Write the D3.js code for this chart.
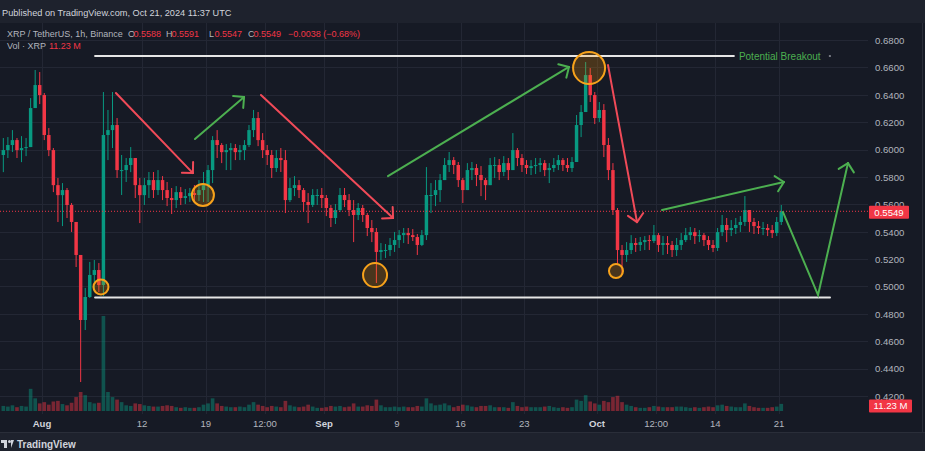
<!DOCTYPE html>
<html>
<head>
<meta charset="utf-8">
<script src="https://cdn.jsdelivr.net/npm/d3@7"></script>
<style>
  html, body { margin: 0; padding: 0; background: #161a25; }
  svg { display: block; font-family: "Liberation Sans", Arial, sans-serif; }
</style>
</head>
<body>
<svg id="chart" width="925" height="451"></svg>
<script>
var candleStart = "2024-07-27T12:00:00Z";
var candleHours = 12;
var firstOpen = 0.5960;

var candleHigh = [
  .6084,.6091,.6142,.6084,.6098,.6084,.6376,.6581,.6566,.6413,
  .6157,.6011,.5792,.5755,.5719,.5609,.5471,.5208,.4989,.5179,
  .5193,.5171,.6420,.6289,.6420,.6230,.5960,.5938,.6018,.5923,
  .5792,.5792,.5836,.5836,.5850,.5806,.5763,.5719,.5733,.5726,
  .5711,.5719,.5741,.5777,.5836,.5887,.6098,.6142,.6047,.6040,
  .6047,.6040,.6033,.6069,.6179,.6289,.6274,.6120,.6033,.5996,
  .5996,.6011,.5996,.5792,.5806,.5777,.5719,.5682,.5711,.5711,
  .5719,.5668,.5595,.5602,.5719,.5719,.5675,.5631,.5609,.5595,
  .5536,.5485,.5427,.5317,.5310,.5354,.5398,.5412,.5427,.5427,
  .5419,.5383,.5412,.5872,.5755,.5777,.5821,.5938,.5982,.5945,
  .5909,.5792,.5901,.5909,.5894,.5879,.5792,.5938,.5945,.5931,
  .5952,.5938,.6120,.6011,.5967,.5923,.5923,.5938,.5938,.5923,
  .5901,.5938,.5960,.5938,.5938,.5945,.6252,.6325,.6639,.6595,
  .6420,.6347,.6332,.6084,.5901,.5573,.5303,.5324,.5375,.5354,
  .5361,.5368,.5375,.5449,.5390,.5368,.5368,.5332,.5354,.5390,
  .5427,.5434,.5427,.5412,.5390,.5368,.5339,.5427,.5522,.5500,
  .5485,.5500,.5514,.5660,.5558,.5500,.5478,.5471,.5456,.5449,
  .5507,.5595
];
var candleLow = [
  .5835,.5938,.5982,.5938,.5908,.5952,.6055,.6362,.6332,.6069,
  .5952,.5689,.5471,.5441,.5500,.5398,.5142,.4302,.4682,.4916,
  .4959,.4959,.4930,.5923,.6011,.5792,.5668,.5763,.5835,.5646,
  .5463,.5595,.5646,.5646,.5668,.5631,.5587,.5529,.5573,.5595,
  .5602,.5617,.5624,.5624,.5617,.5617,.5755,.5938,.5901,.5850,
  .5850,.5923,.5923,.5923,.6018,.6091,.6025,.5938,.5887,.5792,
  .5836,.5836,.5536,.5617,.5660,.5646,.5544,.5463,.5580,.5595,
  .5573,.5514,.5434,.5456,.5544,.5580,.5514,.5324,.5485,.5471,
  .5368,.5324,.5025,.5193,.5208,.5222,.5252,.5281,.5317,.5310,
  .5332,.5230,.5295,.5339,.5536,.5587,.5617,.5792,.5836,.5821,
  .5726,.5609,.5726,.5777,.5733,.5660,.5631,.5763,.5792,.5777,
  .5806,.5777,.5850,.5879,.5836,.5821,.5814,.5821,.5836,.5806,
  .5755,.5836,.5850,.5843,.5836,.5836,.5923,.6091,.6289,.6347,
  .6186,.6201,.5945,.5777,.5522,.5157,.5091,.5179,.5237,.5252,
  .5259,.5266,.5266,.5317,.5252,.5230,.5237,.5215,.5222,.5266,
  .5324,.5339,.5310,.5324,.5295,.5266,.5251,.5259,.5368,.5324,
  .5368,.5383,.5398,.5441,.5398,.5383,.5383,.5375,.5368,.5354,
  .5368,.5449
];
var candleClose = [
  .5996,.6033,.6069,.5996,.6011,.6018,.6303,.6471,.6398,.6106,
  .5996,.5740,.5667,.5704,.5595,.5471,.5230,.4755,.4923,.5084,
  .5120,.5010,.6106,.6142,.6179,.5850,.5850,.5887,.5938,.5740,
  .5667,.5740,.5777,.5704,.5777,.5704,.5646,.5631,.5689,.5646,
  .5660,.5682,.5668,.5704,.5740,.5850,.6069,.6033,.5981,.5996,
  .6011,.5981,.5996,.6033,.6142,.6230,.6069,.5996,.5960,.5865,
  .5938,.5923,.5631,.5719,.5740,.5704,.5617,.5595,.5668,.5668,
  .5646,.5573,.5500,.5558,.5668,.5631,.5558,.5522,.5573,.5522,
  .5427,.5398,.5252,.5266,.5266,.5303,.5339,.5375,.5390,.5375,
  .5361,.5303,.5375,.5668,.5668,.5704,.5777,.5887,.5923,.5887,
  .5777,.5704,.5850,.5865,.5814,.5777,.5740,.5887,.5887,.5836,
  .5901,.5850,.5996,.5938,.5887,.5865,.5879,.5887,.5901,.5850,
  .5865,.5887,.5923,.5887,.5865,.5909,.6179,.6274,.6544,.6398,
  .6230,.6289,.6033,.5850,.5558,.5266,.5230,.5266,.5317,.5303,
  .5324,.5339,.5332,.5375,.5303,.5317,.5303,.5266,.5303,.5339,
  .5375,.5397,.5368,.5375,.5339,.5303,.5281,.5397,.5449,.5412,
  .5427,.5449,.5471,.5558,.5471,.5441,.5427,.5427,.5412,.5390,
  .5471,.5549
];
// volume in millions XRP (height of the bars as seen)
var candleVolume = [
  8,7,9,6,8,7,35,20,12,14,
  10,15,16,11,9,13,22,30,25,14,
  12,13,150,30,22,18,14,9,8,12,
  11,9,8,7,7,8,9,8,6,5,
  6,5,5,6,10,12,20,12,8,7,
  6,6,7,6,10,14,10,8,6,8,
  7,6,16,9,7,6,7,10,7,5,
  5,6,8,7,8,6,7,12,7,7,
  9,8,18,9,6,6,7,6,7,6,
  6,8,7,20,12,9,10,12,9,6,
  8,10,9,7,6,8,8,9,6,6,
  6,5,14,8,6,7,6,6,6,7,
  8,6,5,6,5,6,18,16,25,15,
  12,10,16,14,22,24,14,10,8,6,
  5,5,6,8,7,6,6,6,7,7,
  6,5,6,5,6,7,6,9,10,8,
  7,6,6,12,8,6,5,5,5,6,
  7,11.23
];

// last hourly bar, as printed in the legend
var legendOHLC = [["O", 0.5588], ["H", 0.5591], ["L", 0.5547], ["C", 0.5549]];
var legendChange = "\u22120.0038 (\u22120.68%)";

var priceTicks = [0.42,0.44,0.46,0.48,0.50,0.52,0.54,0.56,0.58,0.60,0.62,0.64,0.66,0.68];
var timeTickDates = ["2024-08-01T00:00Z","2024-08-12T00:00Z","2024-08-19T00:00Z","2024-08-25T12:00Z",
  "2024-09-01T00:00Z","2024-09-09T00:00Z","2024-09-16T00:00Z","2024-09-23T00:00Z",
  "2024-10-01T00:00Z","2024-10-07T12:00Z","2024-10-14T00:00Z","2024-10-21T00:00Z"];
var timeTickLabels = ["Aug","12","19","12:00","Sep","9","16","23","Oct","12:00","14","21"];
var monthLabels = ["Aug","Sep","Oct"];

// drawings on the chart
var trendArrows = [
  {from:["2024-08-09T03:00Z",0.6413], to:["2024-08-17T14:00Z",0.5828], kind:"down"},
  {from:["2024-08-17T19:30Z",0.6077], to:["2024-08-23T05:00Z",0.6384], kind:"up"},
  {from:["2024-08-25T01:30Z",0.6398], to:["2024-09-08T14:00Z",0.5500], kind:"down"},
  {from:["2024-09-08T00:30Z",0.5806], to:["2024-09-27T22:00Z",0.6603], kind:"up"},
  {from:["2024-10-02T05:00Z",0.6617], to:["2024-10-05T09:30Z",0.5470], kind:"down"},
  {from:["2024-10-08T03:30Z",0.5558], to:["2024-10-21T13:00Z",0.5763], kind:"up"}
];
var forecastPath = [["2024-10-21T10:30Z",0.5543],["2024-10-25T07:00Z",0.4937],["2024-10-28T14:00Z",0.5901]];
var markedPoints = [
  {t:"2024-08-07T11:30Z", p:0.4996, r:7.5},
  {t:"2024-08-18T16:30Z", p:0.5668, r:11},
  {t:"2024-09-06T14:30Z", p:0.5083, r:12},
  {t:"2024-09-30T03:00Z", p:0.6595, r:16},
  {t:"2024-10-03T02:00Z", p:0.5113, r:7}
];
var levels = [
  {from:"2024-08-06T20:00Z", to:"2024-10-16T01:00Z", p:0.6683, label:"Potential Breakout"},
  {from:"2024-08-06T20:00Z", to:"2024-10-26T14:30Z", p:0.4919, label:null}
];

var W = 925, H = 451, paneRight = 868, paneTop = 23, paneBottom = 414;
var UP = "#089981", DOWN = "#f23645", RED_DRAW = "#f04a58", GREEN_DRAW = "#4caf50";

var svg = d3.select("#chart");
var x = d3.scaleUtc()
    .domain([new Date("2024-08-01T00:00Z"), new Date("2024-10-21T00:00Z")])
    .range([42, 779]);
var y = d3.scaleLinear().domain([0.42, 0.68]).range([396, 40]);
var yVol = d3.scaleLinear().domain([0, 150]).range([411, 316]);

var t0 = new Date(candleStart), stepMs = candleHours * 3600 * 1000;
var candles = candleClose.map(function(c, i){
  var o = i === 0 ? firstOpen : candleClose[i - 1];
  return {
    t: new Date(+t0 + i * stepMs),
    o: o, c: c,
    h: Math.max(candleHigh[i], o, c),
    l: Math.min(candleLow[i], o, c),
    v: candleVolume[i]
  };
});
var last = candles[candles.length - 1];

// backgrounds
svg.append("rect").attr("width", W).attr("height", H).attr("fill", "#161a25");
svg.append("rect").attr("width", W).attr("height", paneTop).attr("fill", "#1e222d");
svg.append("rect").attr("y", 432).attr("width", W).attr("height", H - 432).attr("fill", "#1e222d");
svg.append("line").attr("x1", 0).attr("x2", W).attr("y1", 432.5).attr("y2", 432.5).attr("stroke", "#2a2e39");
svg.append("line").attr("x1", 922.5).attr("x2", 922.5).attr("y1", paneTop).attr("y2", 432).attr("stroke", "#2a2e39");

svg.append("text").attr("x", 2).attr("y", 16).attr("fill", "#d1d4dc").attr("font-size", 9.2)
  .text("Published on TradingView.com, Oct 21, 2024 11:37 UTC");

svg.append("clipPath").attr("id", "pane").append("rect")
  .attr("x", 0).attr("y", paneTop).attr("width", paneRight).attr("height", paneBottom - paneTop);

var grid = svg.append("g").attr("stroke", "#232734").attr("stroke-width", 1);
grid.selectAll("line.h").data(priceTicks).enter().append("line")
  .attr("x1", 0).attr("x2", paneRight)
  .attr("y1", function(d){ return Math.round(y(d)) + 0.5; })
  .attr("y2", function(d){ return Math.round(y(d)) + 0.5; });
grid.selectAll("line.v").data(timeTickDates).enter().append("line")
  .attr("x1", function(d){ return Math.round(x(new Date(d))) + 0.5; })
  .attr("x2", function(d){ return Math.round(x(new Date(d))) + 0.5; })
  .attr("y1", paneTop).attr("y2", paneBottom);

var plot = svg.append("g").attr("clip-path", "url(#pane)");

var barW = (x(new Date(+t0 + stepMs)) - x(t0));
function cx(d){ return x(new Date(+d.t + stepMs / 2)); }

// volume
plot.append("g").selectAll("rect").data(candles).enter().append("rect")
  .attr("x", function(d){ return cx(d) - barW * 0.4; })
  .attr("width", barW * 0.8)
  .attr("y", function(d){ return yVol(d.v); })
  .attr("height", function(d){ return yVol(0) - yVol(d.v); })
  .attr("fill", function(d){ return d.c >= d.o ? UP : DOWN; })
  .attr("opacity", 0.45);

// candles
var cg = plot.append("g").selectAll("g").data(candles).enter().append("g");
cg.append("line")
  .attr("x1", cx).attr("x2", cx)
  .attr("y1", function(d){ return y(d.h); })
  .attr("y2", function(d){ return y(d.l); })
  .attr("stroke", function(d){ return d.c >= d.o ? UP : DOWN; })
  .attr("stroke-width", 1);
cg.append("rect")
  .attr("x", function(d){ return cx(d) - barW * 0.38; })
  .attr("width", barW * 0.76)
  .attr("y", function(d){ return y(Math.max(d.o, d.c)); })
  .attr("height", function(d){ return Math.max(1, Math.abs(y(d.o) - y(d.c))); })
  .attr("fill", function(d){ return d.c >= d.o ? UP : DOWN; });

// last price line
plot.append("line").attr("x1", 0).attr("x2", paneRight)
  .attr("y1", y(last.c)).attr("y2", y(last.c))
  .attr("stroke", DOWN).attr("stroke-width", 1).attr("stroke-dasharray", "1,2");

// drawings
var draw = plot.append("g").attr("fill", "none").attr("stroke-width", 2).attr("stroke-linecap", "round");

draw.selectAll("line.level").data(levels).enter().append("line")
  .attr("x1", function(d){ return x(new Date(d.from)); })
  .attr("x2", function(d){ return x(new Date(d.to)); })
  .attr("y1", function(d){ return y(d.p); })
  .attr("y2", function(d){ return y(d.p); })
  .attr("stroke", "#e6e6e6");
levels.filter(function(d){ return d.label; }).forEach(function(d){
  var tx = x(new Date(d.to)) + 5;
  svg.append("text").attr("x", tx).attr("y", y(d.p) + 3.5)
    .attr("fill", GREEN_DRAW).attr("font-size", 10).text(d.label);
  svg.append("line").attr("x1", tx + 90).attr("x2", tx + 92)
    .attr("y1", y(d.p)).attr("y2", y(d.p)).attr("stroke", "#9598a1").attr("stroke-width", 1.5);
});

function arrowHead(g, x1, y1, x2, y2, color){
  var a = Math.atan2(y1 - y2, x1 - x2), len = 11;
  [-Math.PI / 4, Math.PI / 4].forEach(function(da){
    g.append("line").attr("x1", x2).attr("y1", y2)
      .attr("x2", x2 + len * Math.cos(a + da)).attr("y2", y2 + len * Math.sin(a + da))
      .attr("stroke", color);
  });
}

trendArrows.forEach(function(d){
  var col = d.kind === "up" ? GREEN_DRAW : RED_DRAW;
  var x1 = x(new Date(d.from[0])), y1 = y(d.from[1]);
  var x2 = x(new Date(d.to[0])), y2 = y(d.to[1]);
  draw.append("line").attr("x1", x1).attr("y1", y1).attr("x2", x2).attr("y2", y2).attr("stroke", col);
  arrowHead(draw, x1, y1, x2, y2, col);
});

var fLine = d3.line()
  .x(function(d){ return x(new Date(d[0])); })
  .y(function(d){ return y(d[1]); });
draw.append("path").attr("d", fLine(forecastPath)).attr("stroke", GREEN_DRAW).attr("stroke-linejoin", "miter");
var fp = forecastPath.slice(-2);
arrowHead(draw, x(new Date(fp[0][0])), y(fp[0][1]), x(new Date(fp[1][0])), y(fp[1][1]), GREEN_DRAW);

plot.append("g").selectAll("circle").data(markedPoints).enter().append("circle")
  .attr("cx", function(d){ return x(new Date(d.t)); })
  .attr("cy", function(d){ return y(d.p); })
  .attr("r", function(d){ return d.r; })
  .attr("fill", "rgba(255,152,0,0.22)")
  .attr("stroke", "#f7a21b").attr("stroke-width", 2);

// price axis
var pAxis = svg.append("g").attr("transform", "translate(" + 875 + ",0)")
  .call(d3.axisRight(y).tickValues(priceTicks).tickSize(0).tickPadding(0)
    .tickFormat(function(d){ return d.toFixed(4); }));
pAxis.select(".domain").remove();
pAxis.selectAll("text").attr("fill", "#b2b5be").attr("font-size", 9.6)
  .attr("font-family", "Liberation Sans, Arial, sans-serif").attr("dy", "0.35em");

function priceTag(yy, label, w){
  svg.append("rect").attr("x", 869).attr("y", yy - 6.5).attr("width", w).attr("height", 13)
    .attr("rx", 1).attr("fill", DOWN);
  svg.append("text").attr("x", 869 + w / 2).attr("y", yy + 3.4).attr("text-anchor", "middle")
    .attr("fill", "#ffffff").attr("font-size", 9.6).text(label);
}
priceTag(y(last.c) + 1, last.c.toFixed(4), 40);
priceTag(yVol(last.v) + 2, d3.format(".2f")(last.v) + " M", 43);

// time axis
var tAxis = svg.append("g");
tAxis.selectAll("text").data(timeTickDates).enter().append("text")
  .attr("x", function(d){ return x(new Date(d)); })
  .attr("y", 427)
  .attr("text-anchor", "middle")
  .attr("font-size", 9.6)
  .attr("font-weight", function(d, i){ return monthLabels.indexOf(timeTickLabels[i]) >= 0 ? "bold" : "normal"; })
  .attr("fill", function(d, i){ return monthLabels.indexOf(timeTickLabels[i]) >= 0 ? "#d1d4dc" : "#b2b5be"; })
  .text(function(d, i){ return timeTickLabels[i]; });

// legend
var leg = svg.append("g").attr("font-size", 9);
leg.append("text").attr("x", 7).attr("y", 37).attr("fill", "#b2b5be").text("XRP / TetherUS, 1h, Binance");
var legX = [128, 166, 209, 248];
legendOHLC.forEach(function(d, i){
  leg.append("text").attr("x", legX[i]).attr("y", 37).attr("fill", "#b2b5be").text(d[0]);
  leg.append("text").attr("x", legX[i] + 5.5).attr("y", 37).attr("fill", DOWN).text(d[1].toFixed(4));
});
leg.append("text").attr("x", 288).attr("y", 37).attr("fill", DOWN).text(legendChange);
leg.append("text").attr("x", 7).attr("y", 49).attr("fill", "#b2b5be").text("Vol \u00b7 XRP");
leg.append("text").attr("x", 49).attr("y", 49).attr("fill", DOWN).text(d3.format(".2f")(last.v) + " M");

// footer logo
var logo = svg.append("g").attr("fill", "#d1d4dc");
logo.append("path").attr("d", "M1,440 h6 v8 h-3 v-5 h-3 z");
logo.append("circle").attr("cx", 9.5).attr("cy", 441.5).attr("r", 1.5);
logo.append("path").attr("d", "M11,448 l3,-8 h-3 z");
svg.append("text").attr("x", 17).attr("y", 448).attr("fill", "#d1d4dc").attr("font-size", 10)
  .attr("font-weight", "bold").text("TradingView");
</script>
</body>
</html>
